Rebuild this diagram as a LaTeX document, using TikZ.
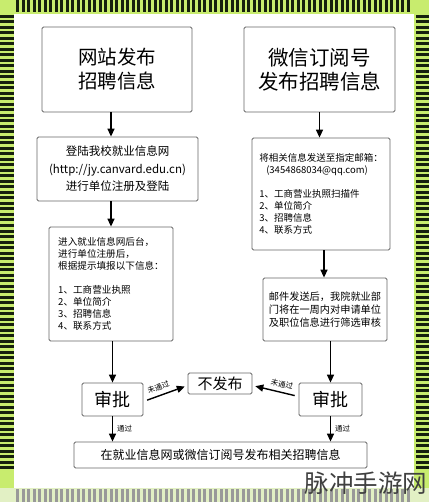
\documentclass[tikz,border=0pt]{standalone}
\usepackage{fontspec}
\setmainfont{Noto Sans CJK SC}
\usetikzlibrary{arrows.meta,calc}
\definecolor{lime}{RGB}{200,236,110}
\definecolor{palelime}{RGB}{226,240,196}
\definecolor{stripe}{RGB}{22,32,14}
\tikzset{
  box/.style={draw=black!60, line width=0.8pt, rounded corners=1.5pt, fill=white, inner sep=0pt},
  flow/.style={line width=1.4pt, draw=black, -{Triangle[length=8pt,width=7pt]}},
  tag/.style={font=\fontsize{7.5}{9}\selectfont, inner sep=1pt},
  fz/.style 2 args={font=\fontsize{#1}{#2}\selectfont},
}

\begin{document}
\begin{tikzpicture}[x=1pt, y=-1pt]
    \useasboundingbox (0,0) rectangle (429,502);
    % striped frame
    \fill[lime] (0,0) rectangle (429,488);
    \fill[palelime] (0,488) rectangle (429,502);
    \foreach \x in {16,21.5,...,410} {
      \fill[stripe] (\x,0) rectangle ++(3,12.5);
      \fill[black!40] (\x,489) rectangle ++(3,13);
    }
    \foreach \y in {15,20.5,...,470} {
      \fill[stripe] (0,\y) rectangle ++(13.5,3);
      \fill[stripe] (415.5,\y) rectangle ++(13.5,3);
    }
    \fill[white] (14,14) rectangle (414,488);
    %
    \node[box, minimum width=150, minimum height=85, align=center, fz={19.5}{24}] (A) at (117,69.5) {网站发布\\招聘信息};
    \node[box, minimum width=151, minimum height=85, align=center, fz={20.5}{24}] (B) at (319.5,69.5) {微信订阅号\\发布招聘信息};
    \node[box, minimum width=161, minimum height=64, align=center, fz={11.5}{17.5}] (C) at (117.5,169) {登陆我校就业信息网\\(http://jy.canvard.edu.cn)\\进行单位注册及登陆};
    \node[box, minimum width=124, minimum height=114, align=left, fz={9.6}{12}] (D) at (111,284)
      {进入就业信息网后台，\\进行单位注册后，\\根据提示填报以下信息：\\[12pt]1、工商营业执照\\2、单位简介\\3、招聘信息\\4、联系方式};
    \node[box, minimum width=138, minimum height=112, align=left, fz={9.5}{12.2}] (E) at (321,194)
      {将相关信息发送至指定邮箱：\\\hspace*{7pt}(3454868034@qq.com)\\[11pt]1、工商营业执照扫描件\\2、单位简介\\3、招聘信息\\4、联系方式};
    \node[box, minimum width=124, minimum height=63, align=center, fz={10.2}{13}] (F) at (325,309.5)
      {邮件发送后，我院就业部\\门将在一周内对申请单位\\及职位信息进行筛选审核};
    \node[box, minimum width=61, minimum height=33, fz={18}{20}] (L) at (112.5,399.5) {审批};
    \node[box, minimum width=64, minimum height=21, fz={15}{17}] (N) at (220,383.5) {不发布};
    \node[box, minimum width=63, minimum height=33, fz={18}{20}] (R) at (330.5,399.5) {审批};
    \node[box, minimum width=293, minimum height=26, fz={12}{14}] (P) at (220.5,455) {在就业信息网或微信订阅号发布相关招聘信息};
    %
    \draw[flow] (D |- A.south) -- (D |- C.north);
    \draw[flow] (D |- C.south) -- (D.north);
    \draw[flow] (D.south -| L.north) -- (L.north);
    \draw[flow] (L.south) -- node[tag, right=3pt] {通过} (L.south |- P.north);
    \draw[flow] (B.south) -- (B.south |- E.north);
    \draw[flow] ($(E.south)+(3,0)$) -- ($(F.north)+(-1,0)$);
    \draw[flow] (F.south -| R.north) -- (R.north);
    \draw[flow] (R.south) -- node[tag, right=3pt] {通过} (R.south |- P.north);
    \draw[flow, shorten <=4pt, shorten >=3pt] ($(L.east)+(0,2)$) -- node[tag, sloped, above=3pt, pos=0.4] {未通过} ($(N.west)+(0,2)$);
    \draw[flow, shorten <=4pt, shorten >=3pt] ($(R.west)+(0,-3)$) -- node[tag, sloped, above=3pt, pos=0.4] {未通过} ($(N.east)+(0,2)$);
    % watermark
    \node[fz={24.5}{26}, text=black!75, inner sep=0pt] (W) at (366,483) {脉冲手游网};
\end{tikzpicture}
\end{document}
